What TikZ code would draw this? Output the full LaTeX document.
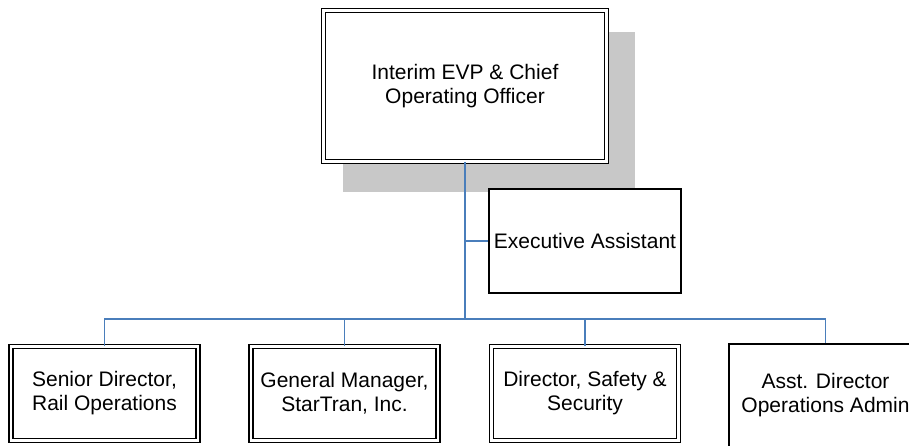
\documentclass[tikz,border=0pt]{standalone}
\usepackage{fontspec}
\setmainfont{Liberation Sans}
\usetikzlibrary{backgrounds}
\definecolor{linkBlue}{HTML}{4A7EBB}
\definecolor{shadowGray}{HTML}{C8C8C8}

\begin{document}
\begin{tikzpicture}[x=1pt,y=-1pt,
	every node/.style={font=\fontsize{21}{24}\selectfont, align=center, inner sep=0pt},
	headBox/.style={draw, fill=white, double, double distance=2.8pt, line width=1.5pt},
	staffBox/.style={draw, fill=white, line width=1.7pt},
	link/.style={draw=linkBlue, line width=1.8pt}]
	\useasboundingbox (0,0) rectangle (909,445);
	\clip (0,0) rectangle (909,445);

	\node[headBox, minimum width=283pt, minimum height=151pt] (coo) at (465,86)
		{Interim EVP \& Chief\\Operating Officer};
	\node[staffBox, minimum width=192pt, minimum height=104pt] (assistant) at (585,241)
		{Executive Assistant};

	\node[headBox, minimum width=187pt, minimum height=94pt] (railOps) at (104.5,393.5)
		{Senior Director,\\Rail Operations};
	\node[headBox, minimum width=187pt, minimum height=94pt] (starTran) at (344.5,393.5)
		{General Manager,\\StarTran, Inc.};
	\node[headBox, minimum width=187pt, minimum height=94pt] (safety) at (585,393.5)
		{Director, Safety \&\\Security};
	\node[staffBox, minimum width=193pt, minimum height=103pt] (opsAdmin) at (825.5,395.5)
		{Asst. Director\\Operations Admin};

	% shadow behind the top box
	\begin{scope}[on background layer]
		\fill[shadowGray] ([shift={(20.5,22.5)}]coo.north west) rectangle ([shift={(27.5,29.5)}]coo.south east);
	\end{scope}

	\coordinate (bus) at (coo.south |- 0,319);
	\coordinate (tap) at (coo.south |- assistant.west);
	\draw[link] (coo.south) -- (bus);
	\draw[link] (tap) -- (assistant.west);
	\draw[link] (bus) -| (railOps.north);
	\draw[link] (bus) -| (starTran.north);
	\draw[link] (bus) -| (safety.north);
	\draw[link] (bus) -| (opsAdmin.north);
\end{tikzpicture}
\end{document}
